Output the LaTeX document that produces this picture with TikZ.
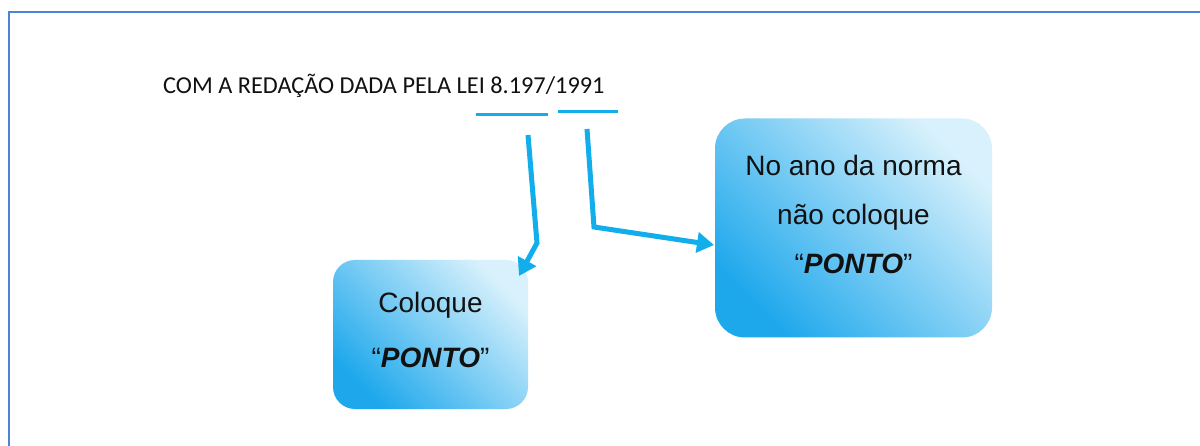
\documentclass[tikz,border=0pt]{standalone}
\usepackage{fontspec}
\setmainfont{Liberation Sans}
\newfontfamily\calib{Carlito}
\usetikzlibrary{arrows.meta}
\definecolor{frameblue}{HTML}{4A86D8}
\definecolor{arrowblue}{HTML}{12AEEC}
\definecolor{boxdark}{HTML}{1EA8EC}
\definecolor{boxlight}{HTML}{D8F1FC}
\definecolor{txt}{HTML}{111111}
\tikzset{
  frame/.style={draw=frameblue, line width=2.5pt},
  uline/.style={draw=arrowblue, line width=3pt},
  conn/.style={draw=arrowblue, line width=5pt, line join=miter,
    -{Triangle[length=17pt,width=20pt]}},
  gbox/.style={rounded corners=22pt, draw=none, top color=boxdark,
    bottom color=boxlight, shading angle=135, inner sep=0pt},
  btext/.style={align=center, text=txt, font=\fontsize{28}{49}\selectfont, inner sep=0pt}
}
\begin{document}
\begin{tikzpicture}[x=1pt,y=-1pt]
\useasboundingbox (0,0) rectangle (1200,446);
\fill[white] (0,0) rectangle (1200,446);
% frame
\coordinate (f1) at (9,447);
\coordinate (f2) at (9,12);
\coordinate (f3) at (1201,12);
\draw[frame] (f1) -- (f2) -- (f3);
% title
\node[anchor=west, inner sep=0pt, text=txt, font=\calib\fontsize{24.3}{28}\selectfont] (title) at (163,86) {COM A REDAÇÃO DADA PELA LEI 8.197/1991};
% underlines
\coordinate (u1a) at (476,115);
\coordinate (u1b) at (548,115);
\coordinate (u2a) at (558,112);
\coordinate (u2b) at (618,112);
\draw[uline] (u1a) -- (u1b);
\draw[uline] (u2a) -- (u2b);
% boxes
\node[gbox, minimum width=195pt, minimum height=149pt] (box1) at (430.5,334.5) {};
\node[gbox, rounded corners=30pt, minimum width=277pt, minimum height=219pt] (box2) at (853.5,228) {};
\node[btext, font=\fontsize{28}{55}\selectfont] (t1) at (430.5,330) {Coloque\\“\textbf{\textit{PONTO}}”};
\node[btext] (t2) at (853.5,214) {No ano da norma\\não coloque\\“\textbf{\textit{PONTO}}”};
% connectors
\coordinate (a1s) at (528,135);
\coordinate (a1m) at (537,243);
\coordinate (a1e) at (519,276);
\coordinate (a2s) at (587,129);
\coordinate (a2m) at (594,227);
\coordinate (a2e) at (714,245);
\draw[conn] (a1s) -- (a1m) -- (a1e);
\draw[conn] (a2s) -- (a2m) -- (a2e);
\end{tikzpicture}
\end{document}
